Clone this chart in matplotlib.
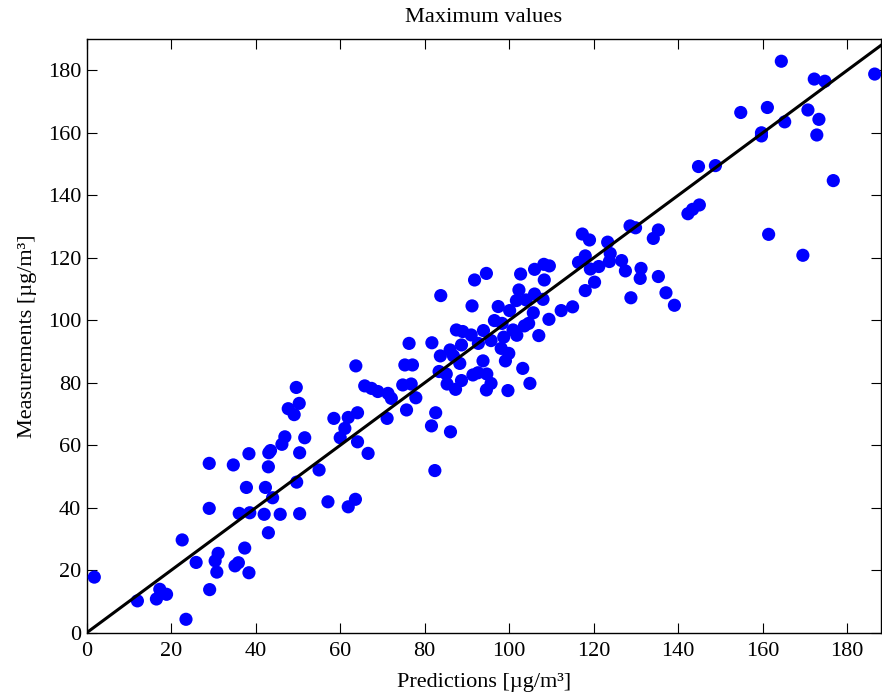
import matplotlib
matplotlib.use("Agg")
import matplotlib.pyplot as plt
import numpy as np


predicciones = [
    1.8, 12.0, 16.5, 17.3, 18.9, 23.5, 22.6, 25.9, 29.1, 29.0,
    29.0, 30.4, 31.1, 30.8, 34.7, 35.1, 35.9, 36.1, 37.4, 37.8,
    38.4, 38.6, 38.4, 42.0, 42.3, 43.0, 43.0, 43.1, 43.5, 44.0,
    45.8, 49.7, 50.4, 50.4, 46.2, 46.9, 47.7, 49.1, 49.6, 50.3,
    51.6, 55.0, 58.5, 60.0, 61.1, 61.9, 64.1, 64.1, 66.6, 63.7,
    65.8, 67.4, 68.9, 71.3, 72.1, 71.1, 74.8, 76.8, 75.7, 77.9,
    75.3, 77.1, 76.3, 81.7, 83.8, 83.7, 83.4, 85.1, 85.3, 87.3,
    88.7, 82.6, 81.6, 86.1, 82.4, 86.0, 86.8, 87.5, 89.0, 88.7,
    88.3, 91.0, 91.2, 91.8, 94.6, 93.9, 92.7, 95.7, 93.8, 91.4,
    92.6, 94.7, 95.7, 94.6, 97.4, 100.1, 96.5, 98.3, 98.7, 98.1,
    99.9, 99.1, 99.7, 100.9, 101.8, 103.2, 104.9, 102.3, 101.7, 102.7,
    104.0, 106.0, 108.0, 105.7, 103.6, 104.6, 107.0, 109.4, 112.3, 115.0,
    106.0, 108.2, 109.5, 108.3, 117.3, 116.4, 119.0, 123.3, 118.0, 119.2,
    121.2, 123.9, 123.7, 118.0, 120.2, 126.6, 127.5, 128.6, 129.9, 131.2,
    131.0, 135.3, 128.8, 134.1, 135.3, 137.1, 139.1, 142.3, 143.4, 145.0,
    161.4, 169.5, 144.8, 148.8, 154.8, 159.7, 159.7, 161.1, 165.2, 164.4,
    170.7, 172.2, 174.7, 173.3, 172.8, 176.7, 186.5, 57.1, 61.9, 63.6,
]
mediciones = [
    17.8, 10.2, 10.8, 13.9, 12.3, 4.3, 29.7, 22.5, 13.8, 39.8,
    54.2, 23.0, 25.4, 19.4, 53.7, 21.4, 22.4, 38.2, 27.1, 46.5,
    57.3, 38.4, 19.2, 37.9, 46.5, 53.1, 32.0, 57.6, 58.3, 43.2,
    37.9, 48.2, 38.1, 57.6, 60.3, 62.7, 71.7, 69.8, 78.5, 73.4,
    62.4, 52.1, 68.6, 62.4, 65.4, 68.9, 70.4, 61.1, 57.4, 85.4,
    79.0, 78.2, 77.2, 76.6, 75.0, 68.6, 79.3, 79.6, 71.3, 75.2,
    85.7, 85.7, 92.6, 92.8, 107.9, 88.6, 83.6, 82.8, 79.6, 77.9,
    80.7, 70.4, 66.2, 64.3, 51.9, 90.5, 88.6, 96.9, 96.4, 92.1,
    86.2, 95.3, 104.6, 112.9, 115.0, 96.7, 92.6, 93.5, 87.0, 82.5,
    83.2, 82.8, 79.8, 77.7, 104.4, 103.1, 99.9, 99.0, 94.6, 91.0,
    89.4, 87.0, 77.5, 96.9, 95.2, 84.6, 79.8, 109.7, 106.3, 114.8,
    106.5, 108.4, 106.7, 102.4, 98.2, 99.0, 95.1, 100.3, 103.1, 104.3,
    116.3, 117.9, 117.4, 112.9, 127.6, 118.5, 125.7, 125.0, 120.6, 116.4,
    117.2, 121.4, 118.8, 109.5, 112.2, 119.1, 115.8, 130.2, 129.6, 116.6,
    113.4, 114.0, 107.2, 126.2, 128.9, 108.8, 104.8, 134.1, 135.5, 136.9,
    127.5, 120.8, 149.2, 149.5, 166.5, 160.0, 159.0, 168.1, 163.5, 182.9,
    167.3, 177.2, 176.5, 164.3, 159.3, 144.7, 178.8, 41.9, 40.3, 42.7,
]

limite_x = (0, 188)
limite_y = (0, 190)
ticks = np.arange(0, 181, 20)

plt.rcParams["font.family"] = ["Liberation Serif", "DejaVu Serif"]
plt.rcParams["font.size"] = 16

fig = plt.figure(figsize=(8.82, 7.00), dpi=100)
ax = fig.add_axes([0.0983, 0.0961, 0.9006, 0.8481])

# Puntos azules y recta y = x
ax.scatter(predicciones, mediciones, s=90, c="#0000ff", edgecolors="none", zorder=3)
ax.plot(limite_y, limite_y, color="black", linewidth=2.2, zorder=4)

ax.set_xlim(limite_x)
ax.set_ylim(limite_y)
ax.set_xticks(ticks)
ax.set_yticks(ticks)

ax.tick_params(direction="in", top=True, right=True, length=7, width=0.8)
ax.tick_params(axis="x", pad=7)
ax.tick_params(axis="y", pad=4)
for spine in ax.spines.values():
    spine.set_linewidth(1.0)

ax.set_title("Maximum values", pad=12, fontsize=16.2)
ax.set_xlabel("Predictions [µg/m³]", labelpad=8)
ax.set_ylabel("Measurements [µg/m³]", labelpad=8)

fig.savefig("out.png", dpi=100)
